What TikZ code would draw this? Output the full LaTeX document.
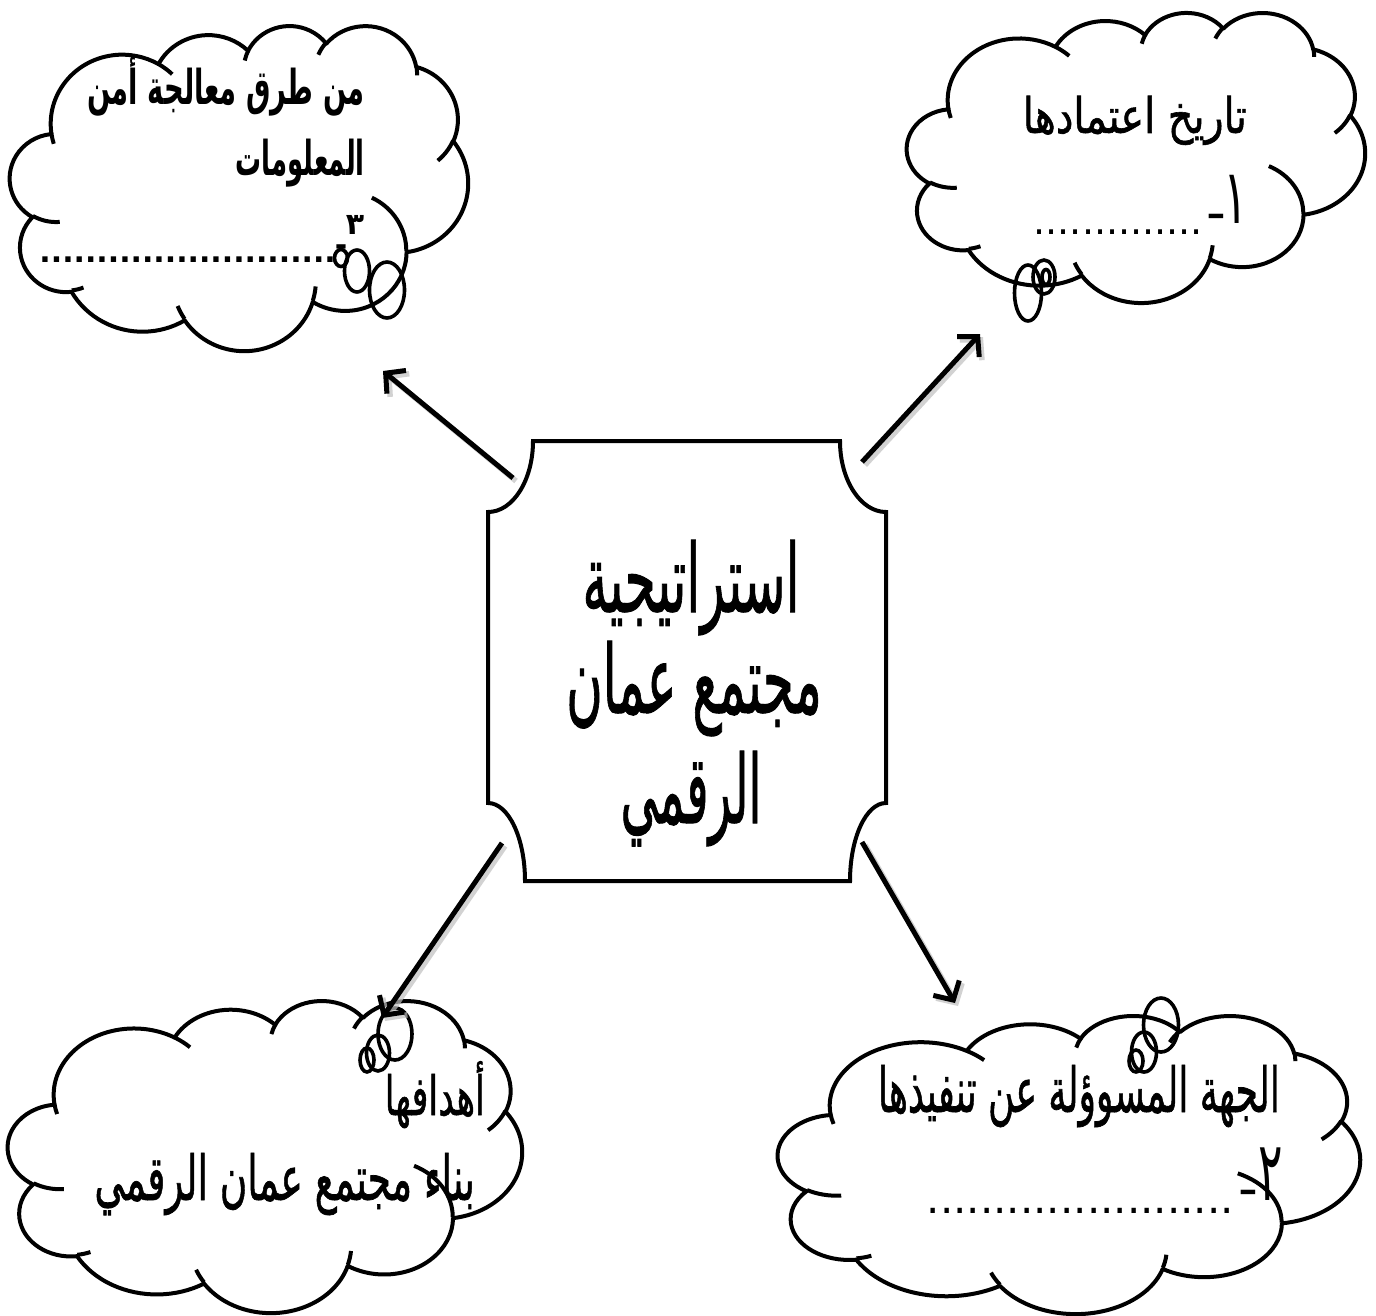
\documentclass[tikz,border=0pt]{standalone}
\usepackage{fontspec}
\usepackage{graphicx}
\usetikzlibrary{arrows.meta}
\newfontfamily\arabicfont[Script=Arabic, FakeBold=1.2]{DejaVu Sans}
\newfontfamily\arabicthin[Script=Arabic]{DejaVu Sans}
\newfontfamily\arabicbold[Script=Arabic]{DejaVu Sans Bold}
\TeXXeTstate=1
\tikzset{
  cloudline/.style={line width=4pt, black, line join=round},
  ppt arc/.style n args={4}{insert path={arc[x radius=#1, y radius=#2,
     start angle={atan2(#1*sin(#3),#2*cos(#3))},
     delta angle={mod(atan2(#1*sin(#3+#4),#2*cos(#3+#4))-atan2(#1*sin(#3),#2*cos(#3))+720,360)-(#4<0)*360}]}},
  bubble/.style={line width=3.6pt, black},
  arrowline/.style={line width=5pt, -{Straight Barb[length=14pt,width=30pt]}},
  shadowline/.style={line width=5.5pt, black!25, opacity=0.7, -{Straight Barb[length=14pt,width=30pt]}},
  plaque/.style={line width=4pt, line join=miter, fill=white},
  artext/.style={inner sep=0pt, font=\arabicfont},
  thintext/.style={inner sep=0pt, font=\arabicthin},
}
% #1 = horizontal scale, #2 = font size, #3 = text
\newcommand\artxt[3]{\scalebox{#1}[1]{\fontsize{#2}{#2}\selectfont #3}}
\newcommand\pptcloud[4]{%
  \begin{scope}[shift={(#1,#2)}, x=1cm, y=1cm, xscale=#3/1229.1584, yscale=-#4/1229.1584]
    \filldraw[cloudline, fill=white] (3.9,14.37)
      [ppt arc={6.753}{9.190}{-190.48748}{123.78053}]
      [ppt arc={5.333}{7.267}{-144.10238}{89.94523}]
      [ppt arc={4.365}{5.945}{-145.80792}{99.72302}]
      [ppt arc={4.857}{6.595}{-130.98607}{117.24173}]
      [ppt arc={5.333}{7.273}{-78.70888}{109.02692}]
      [ppt arc={6.775}{9.220}{-46.26725}{130.269}]
      [ppt arc={5.785}{7.867}{0.62502}{114.03333}]
      [ppt arc={6.752}{9.215}{22.4516}{115.17255}]
      [ppt arc={7.720}{10.543}{66.24263}{75.71102}]
      [ppt arc={4.360}{5.918}{-274.94208}{146.73557}]
      [ppt arc={4.345}{5.945}{-246.8285}{152.51885}]
      -- cycle;
    \draw[cloudline]
      (4.693,26.177) [ppt arc={4.345}{5.945}{86.742}{26.4295}]
      (6.928,34.899) [ppt arc={4.360}{5.918}{73.61047}{11.44747}]
      (16.478,39.090) [ppt arc={6.752}{9.215}{137.62415}{14.0811}]
      (28.827,34.751) [ppt arc={6.752}{9.215}{6.45327}{15.99835}]
      (34.129,22.954) [ppt arc={5.785}{7.867}{-70.29235}{70.91737}]
      (41.798,15.354) [ppt arc={5.333}{7.273}{30.31803}{27.7515}]
      (38.324,5.426) [ppt arc={4.857}{6.595}{-13.74433}{14.8589}]
      (29.078,3.952) [ppt arc={4.857}{6.595}{-149.18145}{18.19537}]
      (22.141,4.720) [ppt arc={4.365}{5.945}{-163.49427}{17.68635}]
      (14.000,5.192) [ppt arc={6.753}{9.190}{-66.70695}{12.31935}]
      (4.127,15.789) [ppt arc={6.753}{9.190}{157.65435}{11.85817}];
  \end{scope}}
\begin{document}
\begin{tikzpicture}[x=1pt,y=-1pt]
\useasboundingbox (0,0) rectangle (1376,1316);
\fill[white] (0,0) rectangle (1376,1316);

% clouds
\pptcloud{10}{25}{458}{325}
\pptcloud{907}{12}{458}{290}
\pptcloud{8}{1000}{514}{312}
\pptcloud{778}{1015}{582}{298}

% thought bubbles
\draw[bubble] (387,290) ellipse [x radius=17.5pt, y radius=28pt];
\draw[bubble] (357,271) ellipse [x radius=12.5pt, y radius=21pt];
\draw[bubble] (341,258) ellipse [x radius=6.5pt, y radius=8.5pt];

\draw[bubble] (1028,293) ellipse [x radius=13.5pt, y radius=28pt];
\draw[bubble] (1044,277) ellipse [x radius=11pt, y radius=17pt];
\draw[bubble] (1046,277) ellipse [x radius=4pt, y radius=7.5pt];

\draw[bubble] (395,1034) ellipse [x radius=17pt, y radius=26pt];
\draw[bubble] (378,1053) ellipse [x radius=11.5pt, y radius=18pt];
\draw[bubble] (367,1060) ellipse [x radius=7pt, y radius=12pt];

\draw[bubble] (1161,1025) ellipse [x radius=17.5pt, y radius=27pt];
\draw[bubble] (1144,1052) ellipse [x radius=12.5pt, y radius=20pt];
\draw[bubble] (1136,1061) ellipse [x radius=7pt, y radius=11pt];

% central plaque
\draw[plaque] (533,441) -- (840,441)
  .. controls (840,480.2) and (860.6,512) .. (886,512) -- (886,803)
  .. controls (866.1,803) and (850,837.9) .. (850,881) -- (525,881)
  .. controls (525,837.9) and (508.4,803) .. (488,803) -- (488,512)
  .. controls (512.9,512) and (533,480.2) .. (533,441) -- cycle;

\node[artext, anchor=base] (c1) at (691,612) {\artxt{0.53}{95}{\beginR استراتيجية\endR}};
\node[artext, anchor=base] (c2) at (694,713) {\artxt{0.525}{95}{\beginR مجتمع عمان\endR}};
\node[artext, anchor=base] (c3) at (691,823) {\artxt{0.49}{95}{\beginR الرقمي\endR}};

% top-left cloud text
\node[artext, anchor=base east, font=\arabicbold] (tl1) at (365,105) {\artxt{0.57}{48}{\beginR من طرق معالجة أمن\endR}};
\node[artext, anchor=base east, font=\arabicbold] (tl2) at (365,176) {\artxt{0.54}{48}{\beginR المعلومات\endR}};
\node[artext, anchor=base east, font=\arabicbold] (tl3dots) at (336,262) {\fontsize{30}{32}\selectfont ..........................};
\node[artext, anchor=base, font=\arabicbold] (tl3dash) at (341,255) {\fontsize{30}{32}\selectfont -};
\node[artext, anchor=base, font=\arabicbold] (tl3num) at (355,234) {\fontsize{30}{32}\selectfont ٣};

% top-right cloud text
\node[artext, anchor=base east] (tr1) at (1247,133) {\artxt{0.81}{49}{\beginR تاريخ اعتمادها\endR}};
\node[thintext, anchor=base east] (tr2dots) at (1203,235) {\fontsize{38}{40}\selectfont ..............};
\node[thintext, anchor=base] (tr2dash) at (1216,232) {\fontsize{55}{58}\selectfont -};
\node[thintext, anchor=base] (tr2num) at (1236,223) {\artxt{0.6}{76}{١}};

% bottom-left cloud text
\node[artext, anchor=base east] (bl1) at (485,1115) {\artxt{0.65}{54}{\beginR أهدافها\endR}};
\node[artext, anchor=base east] (bl2) at (475,1200) {\artxt{0.605}{62}{\beginR بناء مجتمع عمان الرقمي\endR}};

% bottom-right cloud text
\node[artext, anchor=base east] (br1) at (1280,1112) {\artxt{0.58}{62}{\beginR الجهة المسوؤلة عن تنفيذها\endR}};
\node[thintext, anchor=base east] (br2dots) at (1234,1213) {\fontsize{42}{44}\selectfont .......................};
\node[thintext, anchor=base] (br2dash) at (1248,1207) {\fontsize{55}{58}\selectfont -};
\node[thintext, anchor=base] (br2num) at (1271,1200) {\artxt{0.55}{83}{٢}};

% arrows
\coordinate (a1s) at (513,478); \coordinate (a1e) at (383,371);
\coordinate (a2s) at (862,462); \coordinate (a2e) at (980,334);
\coordinate (a3s) at (502,843); \coordinate (a3e) at (382,1018);
\coordinate (a4s) at (862,842); \coordinate (a4e) at (955,1003);
\foreach \s/\e in {a1s/a1e, a2s/a2e, a3s/a3e, a4s/a4e}{
  \draw[shadowline] ([shift={(3,3)}]\s) -- ([shift={(3,3)}]\e);
  \draw[arrowline] (\s) -- (\e);
}
\end{tikzpicture}
\end{document}
